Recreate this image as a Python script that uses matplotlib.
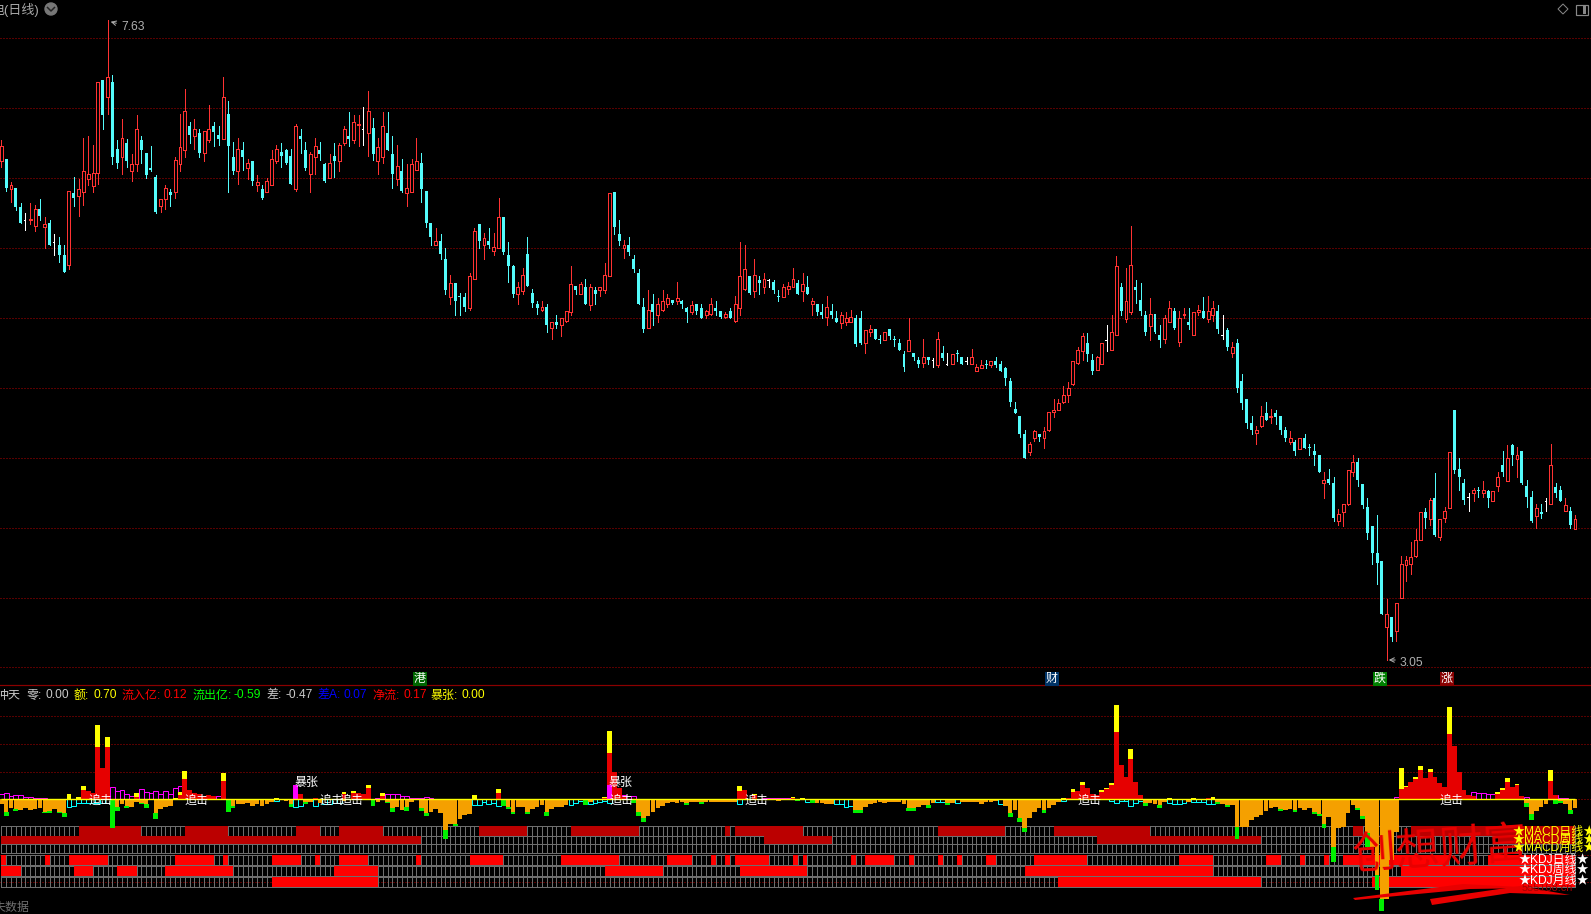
import matplotlib
matplotlib.use("Agg")
import matplotlib.pyplot as plt
from matplotlib.patches import Circle, Polygon, Rectangle
import numpy as np

W, H = 1591, 914
BAR_STEP = 4.827
CN = ["Liberation Sans", "Noto Sans CJK SC", "DejaVu Sans"]

# ---- price panel (daily candles)
open_p = [
    6.62,6.64,6.42,6.43,6.29,6.20,6.20,6.16,6.28,6.15, 6.18,6.04,6.02,5.95,5.88,6.39,6.37,6.40,6.49,6.44,
    6.54,7.20,7.08,7.19,6.71,6.65,6.75,6.55,6.60,6.77, 6.68,6.57,6.51,6.30,6.35,6.40,6.40,6.60,6.70,6.87,
    6.80,6.82,6.68,6.77,6.87,6.81,6.78,6.96,6.65,6.55, 6.70,6.57,6.62,6.45,6.42,6.40,6.45,6.62,6.69,6.70,
    6.66,6.42,6.80,6.70,6.53,6.65,6.70,6.60,6.50,6.66, 6.62,6.75,6.80,6.77,6.88,6.85,6.82,6.86,6.62,6.65,
    6.82,6.67,6.49,6.55,6.39,6.40,6.56,6.61,6.41,6.18, 6.02,6.05,5.92,5.65,5.75,5.66,5.65,5.57,5.78,6.17,
    6.02,6.05,5.98,6.00,6.22,5.95,5.87,5.67,5.69,5.96, 5.68,5.60,5.56,5.58,5.43,5.47,5.45,5.48,5.54,5.73,
    5.67,5.72,5.59,5.70,5.70,5.70,5.80,6.40,6.10,6.00, 6.02,5.92,5.82,5.58,5.43,5.60,5.52,5.56,5.60,5.63,
    5.62,5.62,5.57,5.54,5.60,5.57,5.52,5.53,5.57,5.55, 5.51,5.55,5.48,5.57,5.71,5.80,5.69,5.77,5.72,5.77,
    5.76,5.66,5.65,5.71,5.72,5.75,5.69,5.72,5.60,5.60, 5.54,5.51,5.55,5.50,5.46,5.47,5.47,5.50,5.50,5.32,
    5.40,5.42,5.35,5.34,5.42,5.35,5.32,5.24,5.26,5.25, 5.20,5.18,5.22,5.20,5.16,5.25,5.17,5.17,5.25,5.22,
    5.19,5.17,5.12,5.14,5.17,5.16,5.19,5.17,5.14,5.05, 4.85,4.80,4.67,4.54,4.64,4.67,4.64,4.70,4.83,4.84,
    4.90,4.95,5.03,5.18,5.26,5.32,5.20,5.13,5.17,5.34, 5.27,5.38,5.72,5.49,5.54,5.72,5.63,5.52,5.44,5.53,
    5.38,5.35,5.47,5.55,5.33,5.52,5.47,5.38,5.54,5.55, 5.49,5.52,5.55,5.38,5.41,5.25,5.32,5.05,4.92,4.75,
    4.68,4.73,4.82,4.79,4.82,4.80,4.70,4.61,4.61,4.56, 4.64,4.58,4.55,4.52,4.32,4.35,4.32,4.05,4.11,4.17,
    4.40,4.47,4.31,4.15,4.01,3.82,3.76,3.29,3.36,3.26, 3.50,3.73,3.74,3.80,3.91,4.11,4.06,4.21,3.93,4.07,
    4.14,4.84,4.42,4.32,4.22,4.25,4.27,4.25,4.26,4.19, 4.30,4.45,4.33,4.59,4.49,4.55,4.30,4.22,4.08,4.11,
    4.19,4.17,4.29,4.27,4.12,4.12,3.99,
]
close_p = [
    6.73,6.43,6.45,6.29,6.18,6.20,6.21,6.28,6.23,6.17, 6.02,6.04,5.95,5.83,6.41,6.36,6.42,6.55,6.53,6.54,
    7.19,6.95,7.22,6.65,6.61,6.79,6.62,6.60,6.85,6.70, 6.52,6.56,6.26,6.35,6.43,6.38,6.63,6.72,6.98,6.81,
    6.85,6.68,6.84,6.85,6.83,6.78,7.08,6.73,6.55,6.71, 6.65,6.61,6.48,6.47,6.36,6.48,6.64,6.71,6.66,6.61,
    6.46,6.87,6.78,6.57,6.67,6.73,6.67,6.48,6.61,6.62, 6.74,6.85,6.78,6.90,6.89,6.85,6.98,6.67,6.72,6.87,
    6.70,6.53,6.59,6.41,6.43,6.60,6.62,6.42,6.18,6.08, 6.05,5.96,5.70,5.75,5.62,5.65,5.58,5.80,6.12,6.05,
    6.07,6.02,6.01,6.22,5.97,5.87,5.67,5.72,5.81,5.73, 5.61,5.57,5.58,5.45,5.47,5.45,5.50,5.55,5.74,5.70,
    5.74,5.60,5.72,5.67,5.72,5.81,6.39,6.15,6.05,6.02, 5.97,5.85,5.60,5.42,5.56,5.54,5.60,5.62,5.64,5.61,
    5.64,5.60,5.54,5.59,5.55,5.50,5.55,5.60,5.55,5.51, 5.53,5.50,5.60,5.80,5.85,5.68,5.81,5.75,5.78,5.77,
    5.70,5.65,5.72,5.73,5.78,5.67,5.74,5.67,5.62,5.54, 5.52,5.58,5.52,5.47,5.52,5.50,5.51,5.31,5.32,5.41,
    5.42,5.35,5.34,5.40,5.37,5.34,5.27,5.15,5.34,5.22, 5.17,5.22,5.20,5.20,5.35,5.21,5.17,5.24,5.24,5.17,
    5.19,5.22,5.15,5.16,5.16,5.19,5.16,5.12,5.07,4.90, 4.82,4.67,4.50,4.60,4.69,4.65,4.69,4.83,4.84,4.89,
    4.95,5.00,5.19,5.27,5.37,5.24,5.12,5.22,5.32,5.34, 5.40,5.87,5.55,5.62,5.88,5.70,5.55,5.40,5.53,5.40,
    5.34,5.50,5.57,5.43,5.50,5.53,5.45,5.54,5.56,5.50, 5.55,5.57,5.42,5.38,5.29,5.29,5.00,4.89,4.75,4.70,
    4.70,4.80,4.77,4.80,4.79,4.70,4.64,4.64,4.55,4.64, 4.57,4.57,4.52,4.40,4.34,4.32,4.07,4.10,4.17,4.41,
    4.47,4.34,4.16,3.96,3.82,3.75,3.38,3.38,3.22,3.46, 3.74,3.77,3.79,3.91,4.11,4.07,4.20,3.95,4.06,4.12,
    4.54,4.41,4.36,4.20,4.22,4.27,4.26,4.27,4.21,4.26, 4.36,4.40,4.50,4.52,4.52,4.32,4.22,4.05,4.14,4.10,
    4.19,4.45,4.25,4.19,4.16,4.02,4.06,
]
high_p = [
    6.77,6.64,6.47,6.43,6.32,6.25,6.32,6.31,6.35,6.22, 6.20,6.10,6.08,6.02,6.41,6.51,6.49,6.79,6.80,6.74,
    7.19,7.20,7.63,7.24,6.77,6.92,6.78,6.67,6.95,6.80, 6.68,6.73,6.52,6.35,6.45,6.42,6.65,6.96,7.14,6.90,
    6.92,6.85,6.84,7.02,6.90,6.87,7.22,7.05,6.76,6.79, 6.76,6.64,6.62,6.52,6.45,6.50,6.70,6.74,6.75,6.71,
    6.71,6.89,6.85,6.76,6.69,6.79,6.76,6.61,6.67,6.75, 6.75,6.87,6.97,6.95,6.95,7.01,7.12,6.93,6.79,6.97,
    6.97,6.80,6.74,6.64,6.60,6.64,6.79,6.68,6.41,6.18, 6.14,6.10,6.00,5.81,5.75,5.68,5.68,5.82,6.14,6.17,
    6.11,6.14,6.11,6.36,6.22,6.04,5.88,5.76,5.86,6.08, 5.71,5.62,5.62,5.60,5.47,5.52,5.50,5.55,5.87,5.73,
    5.76,5.78,5.74,5.72,5.72,5.89,6.39,6.40,6.20,6.06, 6.08,5.95,5.85,5.64,5.70,5.67,5.64,5.70,5.67,5.63,
    5.76,5.63,5.58,5.62,5.60,5.60,5.56,5.64,5.62,5.55, 5.54,5.57,5.66,6.04,6.02,5.80,5.92,5.80,5.82,5.78,
    5.77,5.70,5.74,5.76,5.86,5.77,5.82,5.80,5.64,5.60, 5.60,5.66,5.60,5.55,5.54,5.54,5.56,5.52,5.55,5.41,
    5.45,5.42,5.38,5.40,5.42,5.37,5.35,5.26,5.50,5.25, 5.22,5.35,5.22,5.21,5.40,5.30,5.25,5.24,5.27,5.22,
    5.22,5.28,5.17,5.20,5.20,5.19,5.22,5.19,5.15,5.07, 4.90,4.80,4.70,4.61,4.70,4.67,4.72,4.83,4.92,4.92,
    5.01,5.04,5.19,5.29,5.39,5.39,5.24,5.23,5.32,5.45, 5.52,5.94,5.75,5.86,6.16,5.77,5.75,5.55,5.64,5.53,
    5.45,5.52,5.62,5.57,5.55,5.57,5.57,5.54,5.59,5.65, 5.66,5.62,5.59,5.52,5.43,5.33,5.35,5.10,4.92,4.80,
    4.73,4.87,4.90,4.85,4.84,4.80,4.72,4.69,4.63,4.64, 4.67,4.60,4.60,4.52,4.40,4.42,4.36,4.13,4.17,4.41,
    4.52,4.50,4.31,4.21,4.01,4.09,3.76,3.49,3.36,3.46, 3.80,3.80,3.90,3.99,4.11,4.14,4.21,4.39,4.06,4.15,
    4.54,4.84,4.50,4.35,4.25,4.28,4.29,4.33,4.27,4.26, 4.40,4.55,4.59,4.60,4.58,4.55,4.34,4.26,4.17,4.17,
    4.21,4.60,4.32,4.30,4.21,4.15,4.09,
]
low_p = [
    6.58,6.41,6.33,6.27,6.18,6.13,6.17,6.12,6.20,6.00, 6.02,5.95,5.90,5.83,5.85,6.30,6.23,6.31,6.45,6.40,
    6.46,6.85,6.96,6.60,6.57,6.53,6.58,6.48,6.55,6.61, 6.50,6.55,6.25,6.26,6.28,6.30,6.36,6.55,6.65,6.75,
    6.71,6.65,6.62,6.76,6.73,6.74,6.78,6.40,6.53,6.46, 6.56,6.49,6.45,6.41,6.35,6.40,6.45,6.61,6.58,6.60,
    6.46,6.41,6.68,6.56,6.40,6.53,6.63,6.47,6.50,6.51, 6.55,6.74,6.73,6.75,6.73,6.74,6.66,6.63,6.53,6.61,
    6.70,6.43,6.45,6.40,6.30,6.40,6.56,6.33,6.15,6.02, 6.02,5.92,5.67,5.60,5.52,5.52,5.55,5.56,5.78,6.00,
    5.92,6.00,5.95,6.00,5.96,5.76,5.65,5.60,5.67,5.73, 5.58,5.53,5.55,5.40,5.35,5.43,5.37,5.47,5.52,5.67,
    5.67,5.60,5.56,5.60,5.66,5.68,5.80,6.10,6.02,5.93, 5.95,5.83,5.60,5.40,5.43,5.45,5.47,5.55,5.58,5.60,
    5.60,5.57,5.47,5.53,5.53,5.50,5.50,5.52,5.52,5.50, 5.50,5.50,5.47,5.52,5.70,5.67,5.65,5.67,5.68,5.72,
    5.68,5.62,5.65,5.67,5.72,5.67,5.62,5.67,5.52,5.52, 5.50,5.45,5.50,5.47,5.43,5.45,5.47,5.30,5.31,5.25,
    5.37,5.35,5.32,5.34,5.35,5.30,5.27,5.12,5.26,5.20, 5.15,5.15,5.17,5.15,5.15,5.20,5.16,5.17,5.19,5.17,
    5.17,5.17,5.12,5.14,5.14,5.15,5.15,5.12,5.02,4.87, 4.82,4.65,4.50,4.52,4.62,4.62,4.57,4.69,4.79,4.84,
    4.89,4.90,5.02,5.17,5.20,5.19,5.10,5.13,5.17,5.26, 5.27,5.38,5.52,5.47,5.53,5.61,5.52,5.38,5.34,5.39,
    5.29,5.32,5.47,5.42,5.30,5.50,5.42,5.38,5.52,5.50, 5.47,5.48,5.39,5.35,5.27,5.22,4.97,4.85,4.71,4.67,
    4.60,4.72,4.77,4.75,4.74,4.67,4.62,4.60,4.52,4.56, 4.57,4.52,4.45,4.40,4.21,4.31,4.05,4.02,4.01,4.16,
    4.37,4.30,4.14,3.92,3.74,3.60,3.38,3.05,3.19,3.19, 3.50,3.62,3.67,3.79,3.91,4.00,4.02,3.94,3.91,4.04,
    4.14,4.39,4.27,4.17,4.12,4.19,4.22,4.22,4.15,4.19, 4.26,4.37,4.33,4.45,4.36,4.31,4.15,4.04,4.00,4.07,
    4.12,4.17,4.22,4.19,4.12,4.00,3.99,
]
price_grid = [7.5, 7.0, 6.5, 6.0, 5.5, 5.0, 4.5, 4.0, 3.5, 3.0]

# ---- indicator panel, heights in indicator units
outflow_orange = [
    .14,.37,.25,.30,.32,.27,.32,.29,.25,.37, .35,.29,.37,.42,0,0,0,0,0,0,
    0,0,0,0,.22,.14,.19,.22,.07,.10, .15,.02,.42,.29,.23,.20,.02,0,0,0,
    0,0,0,0,0,0,0,0,.20,.14, .14,.10,.20,.15,.20,.15,.08,0,.03,.05,
    .15,0,0,.07,.07,0,.12,0,0,0, 0,.05,0,0,0,0,0,0,.07,0,
    .07,.25,.24,.31,.23,.07,.03,.27,.40,.38, .30,.42,.92,.74,.74,.58,.47,.44,0,0,
    0,0,0,0,0,.22,.37,.22,.24,.37, .29,.23,.17,.37,.29,.23,.23,.17,0,0,
    0,.02,.07,0,0,0,0,0,0,0, 0,.02,.37,.55,.50,.38,.27,.20,.12,.09,
    .12,.09,.12,.08,.08,.08,.08,.08,.08,.08, .08,.08,.08,0,0,0,0,0,0,0,
    0,.04,0,0,0,0,0,0,0,.10, .10,.14,.14,0,0,0,0,.32,.32,.23,
    .14,.10,.08,.10,.08,.08,.08,.14,.27,.27, .23,.17,.17,.10,0,0,.12,.12,0,.08,
    .08,.08,.08,.14,.08,.08,.06,0,.20,.42, .32,.56,.85,.56,.38,.27,.32,.27,.17,.08,
    0,0,0,0,0,0,0,0,0,0, 0,0,0,0,0,0,0,.12,.10,.15,
    .17,.07,0,0,0,0,.07,0,0,0, 0,0,.08,.14,.17,.17,.83,.83,.83,.62,
    .53,.47,.35,.26,.23,.29,.32,.29,.32,.26, .32,.26,.38,.43,.73,.53,1.43,.86,.83,.41,
    .18,.26,.50,1.02,1.42,2.27,3.00,3.00,1.82,.97, 0,0,0,0,0,0,0,0,0,0,
    0,0,0,0,0,0,0,0,0,0, 0,0,0,0,0,0,.10,.44,.35,.23,
    .14,0,0,.04,.13,.32,.26,
]
green_idx = [1,3,9,10,12,13,23,24,26,29,30,32,47,48,60,63,77,78,80,81,84,87,88,92,94,104,105,106,109,113,
             121,131,132,133,142,145,165,168,177,178,188,189,192,196,209,211,212,216,237,240,252,254,256,
             265,268,272,273,274,276,281,282,283,285,286,316,317,322,323,325]
green_depth = [.49,.35,.40,.40,.40,.52,.85,.35,.25,.14,.25,.59,.37,.27,.22,.14,.20,.09,.11,.38,.35,.35,.50,1.19,.80,.19,.29,.44,.44,.50,
               .17,.10,.50,.68,.17,.14,.05,.10,.41,.41,.35,.35,.26,.17,.53,.68,.98,.41,.20,.26,.13,.23,1.19,
               .35,.38,.44,.50,.86,1.88,.32,.59,1.42,2.72,3.34,.23,.62,.13,.11,.44]
cyan_idx = [14,15,16,17,18,19,20,21,22,57,61,62,65,67,68,69,70,98,99,100,101,102,103,118,119,120,122,123,124,125,126,
            153,167,173,174,175,176,194,195,198,207,220,230,231,232,233,234,235,236,242,243,244,245,247,248,249,250,251]
cyan_depth = [.22,.19,.10,.10,.10,.10,.10,.10,.10,.04,.22,.19,.19,.14,.14,.10,.12,.16,.16,.09,.13,.10,.19,.16,.10,.05,.14,.10,.08,.05,.10,
              .14,.07,.15,.15,.23,.20,.09,.09,.11,.14,.06,.04,.10,.04,.04,.19,.10,.04,.10,.13,.13,.10,.07,.07,.07,.13,.13]
red_idx = [16,17,18,19,20,21,22,28,37,38,39,40,41,42,43,44,46,62,65,71,73,74,75,76,79,103,125,126,127,128,129,153,154,156,164,
           221,222,223,224,225,226,227,228,229,230,231,232,233,234,235,236,250,
           290,291,292,293,294,295,296,297,298,299,300,301,302,303,304,305,310,311,312,313,314,315,321,322]
red_height = [.02,.28,.25,.18,1.58,.95,1.58,.06,.14,.60,.28,.18,.16,.10,.13,.10,.55,.16,.03,.15,.20,.18,.15,.34,.10,.20,.05,1.39,.83,.33,.08,.26,.28,.12,.04,
              .05,.23,.24,.43,.34,.15,.13,.23,.30,.43,2.02,1.03,.67,1.21,.52,.13,.04,
              .31,.38,.52,.61,.88,.64,.82,.67,.48,.37,1.96,1.60,.82,.28,.14,.10,.16,.28,.52,.37,.43,.10,.55,.13]
yellow_idx = [14,16,17,20,22,28,36,37,38,46,57,71,73,76,79,98,103,125,126,153,156,164,166,
              220,222,223,224,228,229,230,231,234,242,247,251,290,291,293,294,296,300,310,311,312,314,321]
yellow_top = [.16,.07,.40,2.23,1.87,.20,.03,.22,.85,.79,.04,.21,.25,.43,.18,.13,.31,.08,2.05,.40,.15,.07,.04,
              .03,.31,.26,.52,.28,.34,.49,2.83,1.51,.04,.04,.07,.94,.40,.67,1.00,.91,2.77,.22,.34,.64,.46,.88]
magenta_idx = [0,1,2,3,4,5,6,7,8,9,23,24,25,26,27,28,29,30,31,32,33,34,35,36,37,45,
               78,79,80,81,82,83,84,85,86,87,88,89,129,130,131,158,159,160,161,162,163,
               289,304,305,306,307,308,309,316,321,322,323,324]
magenta_top = [.15,.18,.11,.12,.12,.06,.07,.04,.04,.04,.36,.25,.28,.15,.11,.20,.30,.21,.18,.24,.15,.24,.15,.33,.40,.10,
               .05,.15,.15,.15,.15,.10,.10,.05,.05,.05,.06,.04,.13,.10,.10,.04,.04,.04,.04,.04,.04,
               .06,.14,.21,.18,.18,.15,.15,.06,.10,.13,.04,.04]
surge_idx = [61, 126]
surge_top = [.43, .43]
chase_idx = [18, 38, 66, 70, 126, 154, 223, 298]
indicator_grid = [2.49, 1.66, 0.83, 0, -1.66, -2.49]

# signal strips: (first bar, last bar) of the lit stretches per row
strip_rows = [(-1.10, -0.80), (-1.34, -1.10), (-1.60, -1.34), (-1.97, -1.67), (-2.30, -2.00), (-2.63, -2.33)]
macd_day = [(16,29),(38,47),(61,66),(70,79),(99,109),(118,132),(150,151),(152,166),(194,208),(218,238),(280,282),(292,326)]
macd_week = [(0,87),(158,172),(227,261),(310,326)]
macd_month = []
kdj_day = [(0,1),(9,10),(14,22),(36,44),(46,47),(56,62),(65,66),(70,76),(86,87),(97,104),(116,128),(138,143),(147,148),
           (150,151),(152,159),(164,165),(166,167),(176,177),(179,185),(188,189),(194,195),(198,199),(204,206),(214,225),
           (244,251),(262,265),(269,270),(274,275),(278,300),(308,326)]
kdj_week = [(0,4),(15,19),(24,28),(34,48),(69,78),(125,137),(153,167),(212,251),(290,326)]
kdj_month = [(56,78),(219,261),(284,326)]
strip_spans = [macd_day, macd_week, macd_month, kdj_day, kdj_week, kdj_month]
strip_colors = ["#BB0000", "#BB0000", "#BB0000", "#FF0000", "#FF0000", "#FF0000"]

legend_items = [("冲天", -3, "#C8C8C8"), ("零:", 27, "#C8C8C8"), ("0.00", 46, "#C8C8C8"),
                ("额:", 74, "#FFFF00"), ("0.70", 93, "#FFFF00"),
                ("流入亿:", 121, "#FF0000"), ("0.12", 163, "#FF0000"),
                ("流出亿:", 192, "#00FF00"), ("-0.59", 234, "#00FF00"),
                ("差:", 267, "#C8C8C8"), ("-0.47", 285, "#C8C8C8"),
                ("差A:", 318, "#0000FF"), ("0.07", 343, "#0000FF"),
                ("净流:", 372, "#FF0000"), ("0.17", 403, "#FF0000"),
                ("暴张:", 431, "#FFFF00"), ("0.00", 462, "#FFFF00")]
tag_labels = [("港", 420, "#006600"), ("财", 1052, "#003366"), ("跌", 1380, "#008000"), ("涨", 1447, "#880000")]
side_labels = [("MACD日线", 832, "#FFFF00"), ("MACD周线", 840, "#FFFF00"), ("MACD月线", 848, "#FFFF00"),
               ("KDJ日线", 860, "#FFFFFF"), ("KDJ周线", 870, "#FFFFFF"), ("KDJ月线", 881, "#FFFFFF")]


def px(v):
    return v * 0.72


fig = plt.figure(figsize=(W / 100, H / 100), dpi=100, facecolor="black")
split = 685.3
xlim = (-1.35 / BAR_STEP, (W - 1.35) / BAR_STEP)

ax = fig.add_axes([0, 1 - split / H, 1, split / H], facecolor="black")
ax.set_xlim(*xlim)
ax.set_ylim(7.5 - (split - 38.3) / 139.8, 7.5 + 38.3 / 139.8)
ax.axis("off")

sub = fig.add_axes([0, 0, 1, 1 - split / H], facecolor="black")
sub.set_xlim(*xlim)
sub.set_ylim((799.3 - H) / 33.33, (799.3 - split) / 33.33)
sub.axis("off")

over = fig.add_axes([0, 0, 1, 1], facecolor="none")
over.set_xlim(0, W)
over.set_ylim(H, 0)
over.axis("off")

# candles
xs = np.arange(len(open_p))
o, c, hi, lo = map(np.array, (open_p, close_p, high_p, low_p))
for y in price_grid:
    ax.axhline(y, color="#B00000", lw=px(1), ls=(0, (1, 2)), zorder=1)

up = c > o
down = c < o
flat = c == o
ax.vlines(xs[up], lo[up], hi[up], color="#FF3232", lw=px(1), zorder=2, antialiased=False)
ax.bar(xs[up], (c - o)[up], bottom=o[up], width=0.6, facecolor="black", edgecolor="#FF3232", lw=px(1), zorder=3, antialiased=False)
ax.vlines(xs[down], lo[down], hi[down], color="#54FCFC", lw=px(1), zorder=2, antialiased=False)
ax.bar(xs[down], (c - o)[down], bottom=o[down], width=0.62, color="#54FCFC", lw=0, zorder=3, antialiased=False)
ax.vlines(xs[flat], lo[flat], hi[flat], color="white", lw=px(1), zorder=2, antialiased=False)
ax.hlines(c[flat], xs[flat] - 0.3, xs[flat], color="white", lw=px(1), zorder=2, antialiased=False)

# signal strips
for (bottom, top), spans, colour in zip(strip_rows, strip_spans, strip_colors):
    edge = np.arange(0, len(open_p))
    sub.vlines(edge, bottom, top, color="#6E6E6E", lw=px(1), zorder=1, antialiased=False)
    sub.hlines([bottom, top], 0, len(open_p) - 1, color="#6E6E6E", lw=px(1), zorder=1, antialiased=False)
    for start, end in spans:
        sub.fill_between([start, end], bottom, top, color=colour, lw=0, zorder=2)

for y in indicator_grid:
    sub.axhline(y, color="#B00000", lw=px(1), ls=(0, (1, 2)), zorder=0)

# flow bars
orange = np.array(outflow_orange)
green = np.zeros(len(orange))
green[green_idx] = green_depth
green_base = np.minimum(orange, green)
sub.bar(xs, -orange, width=0.95, color="#F5A000", lw=0, zorder=4)
sub.bar(xs, -(green - green_base), bottom=-green_base, width=1.0, color="#00F000", lw=0, zorder=4)
sub.bar(cyan_idx, -np.array(cyan_depth), width=1.0, fill=False, edgecolor="#00FFFF", lw=px(1), zorder=3)
sub.bar(magenta_idx, magenta_top, width=1.0, fill=False, edgecolor="#FF00FF", lw=px(1), zorder=3)

red = np.zeros(len(orange))
red[red_idx] = red_height
yellow = np.zeros(len(orange))
yellow[yellow_idx] = yellow_top
sub.bar(xs, red, width=1.0, color="#E60000", lw=0, zorder=4)
sub.bar(xs, np.maximum(yellow - red, 0), bottom=red, width=1.0, color="#FFFF00", lw=0, zorder=4)
sub.bar(surge_idx, surge_top, width=1.0, color="#FF00FF", lw=0, zorder=5)
sub.hlines(0, 0, len(orange) - 1, color="#FFFF00", lw=px(1.4), zorder=6)

for i in chase_idx:
    sub.text(i, -0.03, "追击", color="white", fontsize=px(12), family=CN, va="center", ha="left", zorder=7)
for i in surge_idx:
    sub.text(i - 0.2, 0.50, "暴张", color="white", fontsize=px(12), family=CN, va="center", ha="left", zorder=7)

# labels over both panels
over.plot([0, W], [split, split], color="#8B0000", lw=px(1.2))
for label, x, colour in legend_items:
    over.text(x, 695.5, label, color=colour, fontsize=px(12), family=CN, va="center", ha="left")
for label, x, colour in tag_labels:
    over.text(x, 679, label, color="white", fontsize=px(12), family=CN, va="center", ha="center",
              bbox=dict(boxstyle="square,pad=0.05", facecolor=colour, edgecolor="none"))

over.text(-9, 10, "电(日线)", color="#A8A8A8", fontsize=px(13), family=CN, va="center", ha="left")
over.add_patch(Circle((51, 9), 6, color="#777777"))
over.plot([47.5, 51, 54.5], [7.5, 11, 7.5], color="#222222", lw=px(1.5))
over.add_patch(Polygon([(1563, 4), (1568, 9), (1563, 14), (1558, 9)], fill=False, edgecolor="#888888", lw=px(1)))
over.add_patch(Rectangle((1576, 5), 12, 9.5, fill=False, edgecolor="#888888", lw=px(1.2)))
over.add_patch(Rectangle((1583, 6), 3, 7.5, color="#888888", lw=0))
over.text(-6, 908, "失数据", color="#707070", fontsize=px(12), family=CN, va="center", ha="left")

over.annotate("", xy=(108, 21), xytext=(119, 24), arrowprops=dict(arrowstyle="->", color="#B0B0B0", lw=px(1), mutation_scale=8))
over.text(121, 27.5, "7.63", color="#B0B0B0", fontsize=px(12), family=CN, va="center", ha="left")
over.annotate("", xy=(1386, 660), xytext=(1398, 660), arrowprops=dict(arrowstyle="->", color="#B0B0B0", lw=px(1), mutation_scale=8))
over.text(1399, 663, "3.05", color="#B0B0B0", fontsize=px(12), family=CN, va="center", ha="left")

# watermark
over.text(1441, 851, "创想财富", color="#E80000", fontsize=px(44), family=CN, rotation=4,
          va="center", ha="center", zorder=8)
over.add_patch(Polygon([(1353, 898), (1463, 884), (1540, 888), (1470, 889), (1355, 900)], color="#E80000", lw=0, zorder=8))
over.add_patch(Polygon([(1430, 899), (1520, 886), (1570, 895), (1510, 893), (1432, 905)], color="#E80000", lw=0, zorder=8))
over.text(1547, 888, "555168.cn", color="#A00000", fontsize=px(11), family=CN, va="center", ha="center", zorder=8)
for label, y, colour in side_labels:
    over.text(1554, y, f"★{label}★", color=colour, fontsize=px(12), family=CN, va="center", ha="center", zorder=9)

fig.savefig("out.png", dpi=100, facecolor="black")
